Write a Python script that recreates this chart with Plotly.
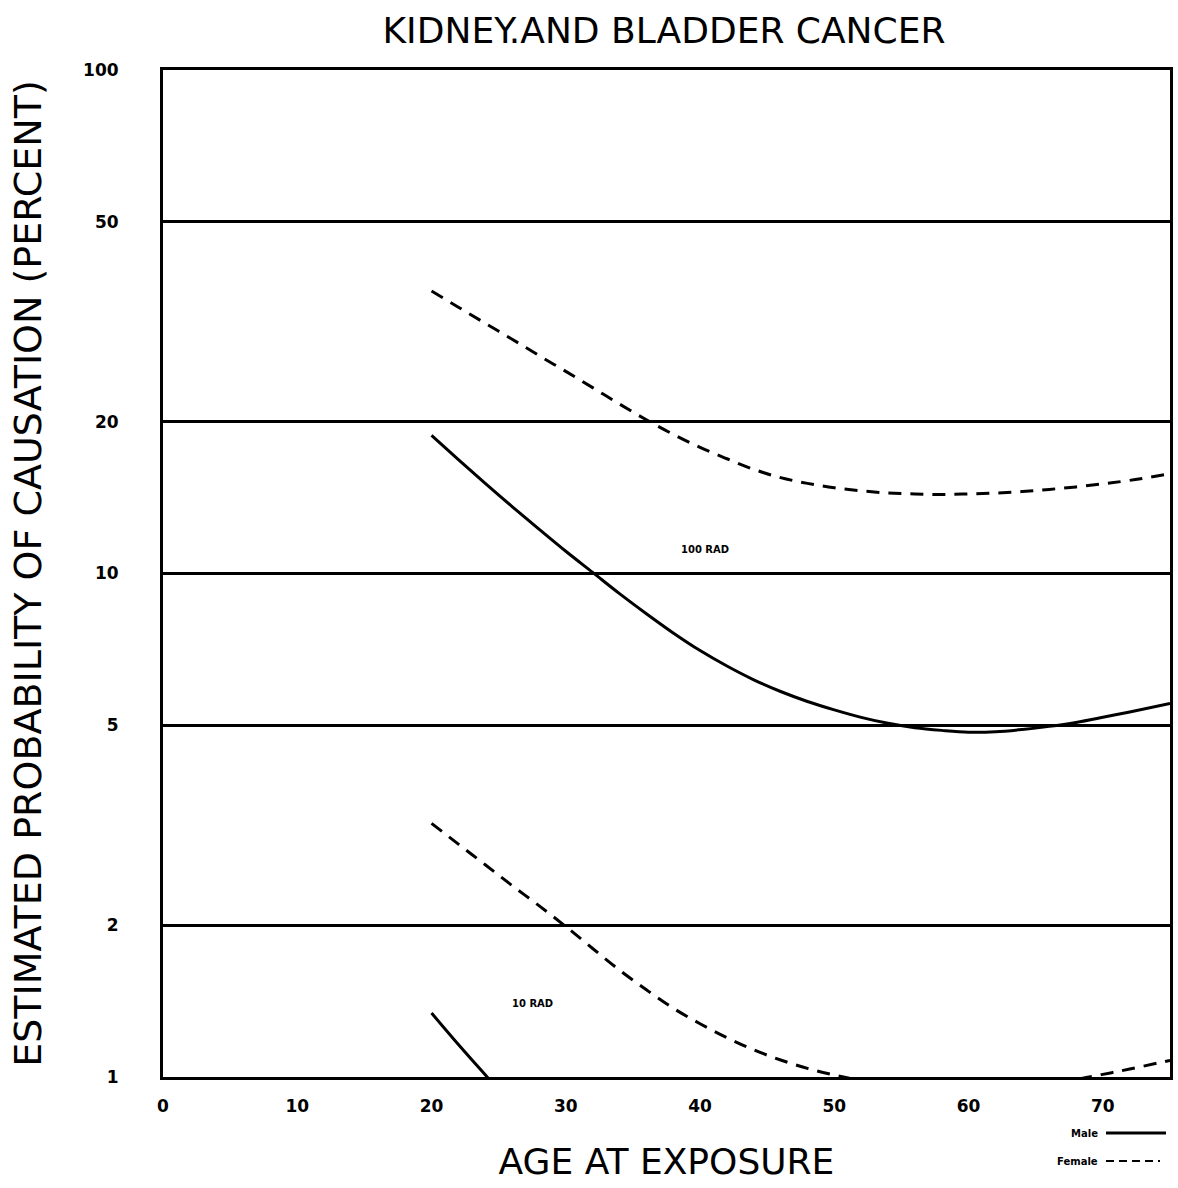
import plotly.graph_objects as go

# ---- data ----
ages = [20, 22, 24, 26, 28, 30, 32, 34, 36, 38, 40, 42, 44, 46, 48, 50,
        52, 54, 56, 58, 60, 62, 64, 66, 68, 70, 72, 75]
female_100 = [36.4, 33.8, 31.4, 29.2, 27.1, 25.2, 23.4, 21.7, 20.2, 18.9, 17.8, 16.9,
              16.1, 15.5, 15.1, 14.8, 14.6, 14.45, 14.39, 14.35, 14.39, 14.45, 14.55,
              14.69, 14.86, 15.07, 15.31, 15.78]
male_100 = [18.8, 16.83, 15.1, 13.58, 12.25, 11.07, 10.05, 9.12, 8.32, 7.62, 7.03, 6.55,
            6.15, 5.83, 5.57, 5.36, 5.18, 5.04, 4.94, 4.88, 4.84, 4.85, 4.9, 4.97, 5.06,
            5.18, 5.31, 5.52]
female_10 = [3.19, 2.9, 2.64, 2.4, 2.19, 1.99, 1.8, 1.63, 1.49, 1.37, 1.276, 1.197,
             1.132, 1.081, 1.04, 1.009, 0.984, 0.966, 0.955, 0.948, 0.946, 0.948, 0.957,
             0.971, 0.989, 1.012, 1.037, 1.079]
ages_male_10 = [20, 22, 24, 26, 28, 30]
male_10 = [1.34, 1.16, 1.01, 0.88, 0.79, 0.71]

x_ticks = [0, 10, 20, 30, 40, 50, 60, 70]
y_ticks = [1, 2, 5, 10, 20, 50, 100]
y_ticktext = ["1", "2", "5", "10", "20", "50", "100"]

title = "KIDNEY.AND BLADDER CANCER"
x_title = "AGE AT EXPOSURE"
y_title = "ESTIMATED PROBABILITY OF CAUSATION (PERCENT)"

FONT = "DejaVu Sans"
DASH = "13px,9px"

fig = go.Figure()
line_solid = dict(color="black", width=3, shape="spline")
line_dash = dict(color="black", width=3, shape="spline", dash=DASH)

fig.add_trace(go.Scatter(x=ages, y=female_100, mode="lines", line=line_dash,
                         name="Female 100 rad", showlegend=False))
fig.add_trace(go.Scatter(x=ages, y=male_100, mode="lines", line=line_solid,
                         name="Male 100 rad", showlegend=False))
fig.add_trace(go.Scatter(x=ages, y=female_10, mode="lines", line=line_dash,
                         name="Female 10 rad", showlegend=False))
fig.add_trace(go.Scatter(x=ages_male_10, y=male_10, mode="lines", line=line_solid,
                         name="Male 10 rad", showlegend=False))

fig.update_layout(
    width=1178, height=1188,
    margin=dict(l=163, r=8, t=70, b=111, autoexpand=False),
    paper_bgcolor="white", plot_bgcolor="white",
    title=dict(text=title, x=0.4975, xref="paper", xanchor="center",
               y=1 - 30 / 1188, yref="container", yanchor="middle",
               font=dict(family=FONT, size=36, color="black")),
    xaxis=dict(range=[0, 75], tickvals=x_ticks,
               ticktext=[f"<b>{v}</b>" for v in x_ticks],
               showgrid=False, zeroline=False, automargin=False,
               showline=True, mirror=True, linecolor="black", linewidth=3,
               ticks="", ticklabelstandoff=12,
               tickfont=dict(family=FONT, size=17, color="black"),
               title=dict(text=x_title, standoff=34,
                          font=dict(family=FONT, size=36, color="black"))),
    yaxis=dict(type="log", range=[0, 2], tickvals=y_ticks,
               ticktext=[f"<b>{t}</b>" for t in y_ticktext],
               showgrid=True, gridcolor="black", gridwidth=3, zeroline=False,
               automargin=False,
               showline=True, mirror=True, linecolor="black", linewidth=3,
               ticks="", ticklabelstandoff=38,
               tickfont=dict(family=FONT, size=17, color="black"),
               title=dict(text=y_title, standoff=30,
                          font=dict(family=FONT, size=38, color="black"))),
)

# dose labels
fig.add_annotation(x=40.4, y=1.047, xref="x", yref="y", text="<b>100 RAD</b>",
                   showarrow=False, font=dict(family=FONT, size=10, color="black"))
fig.add_annotation(x=27.5, y=0.146, xref="x", yref="y", text="<b>10 RAD</b>",
                   showarrow=False, font=dict(family=FONT, size=10, color="black"))

# legend (text left, line sample right)
def px_x(p):
    return (p - 163) / 1007

def px_y(p):
    return (1077 - p) / 1007

fig.add_annotation(x=px_x(1100), y=px_y(1133), xref="paper", yref="paper",
                   text="<b>Male</b>", showarrow=False, xanchor="right", yanchor="middle",
                   font=dict(family=FONT, size=10, color="black"))
fig.add_annotation(x=px_x(1100), y=px_y(1161), xref="paper", yref="paper",
                   text="<b>Female</b>", showarrow=False, xanchor="right", yanchor="middle",
                   font=dict(family=FONT, size=10, color="black"))
fig.add_shape(type="line", xref="paper", yref="paper",
              x0=px_x(1106), x1=px_x(1166), y0=px_y(1133), y1=px_y(1133),
              line=dict(color="black", width=3))
fig.add_shape(type="line", xref="paper", yref="paper",
              x0=px_x(1106), x1=px_x(1160), y0=px_y(1161), y1=px_y(1161),
              line=dict(color="black", width=2, dash="8px,5px"))

fig.write_html("out.html", config={"displayModeBar": False},
               post_script="document.body.style.margin='0';document.body.style.overflow='hidden';")
